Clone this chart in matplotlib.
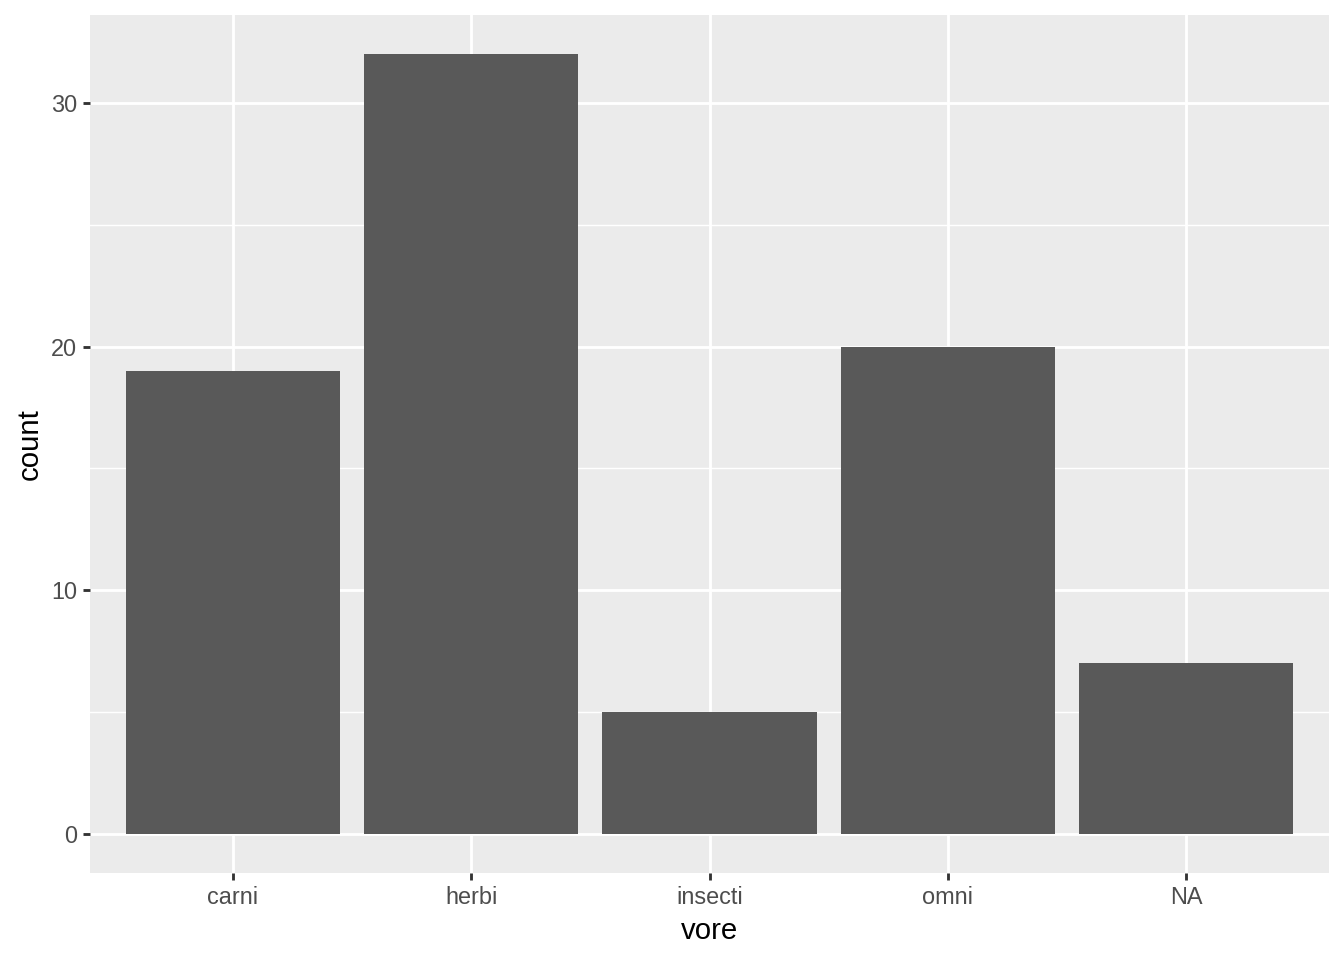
import numpy as np
import matplotlib.pyplot as plt

# counts per vore group (msleep-style data)
vore = ['carni', 'herbi', 'insecti', 'omni', 'NA']
count = [19, 32, 5, 20, 7]

plt.rcParams['font.family'] = ['Liberation Sans', 'DejaVu Sans']

fig = plt.figure(figsize=(7, 5), dpi=192)
ax = fig.add_axes([90/1344, 1 - 873/960, (1329 - 90)/1344, (873 - 15)/960])

x = np.arange(1, len(vore) + 1)
ax.set_facecolor('#EBEBEB')
ax.bar(x, count, width=0.9, color='#595959', zorder=3)

ax.set_xlim(0.4, len(vore) + 0.6)
ymax = max(count)
ax.set_ylim(-0.05 * ymax, ymax * 1.05)

ax.set_xticks(x)
ax.set_xticklabels(vore)
ax.set_yticks([0, 10, 20, 30])
ax.set_yticks([5, 15, 25], minor=True)

ax.grid(which='major', color='white', linewidth=1.07, zorder=1)
ax.grid(which='minor', axis='y', color='white', linewidth=0.53, zorder=1)
ax.set_axisbelow(True)

for s in ax.spines.values():
    s.set_visible(False)

ax.tick_params(which='major', length=2.75, width=1.07, color='#333333',
               labelcolor='#4D4D4D', labelsize=8.8, pad=2.2)
ax.tick_params(which='minor', length=0)

ax.set_xlabel('vore', fontsize=11, color='black', labelpad=2.75)
ax.set_ylabel('count', fontsize=11, color='black', labelpad=2.75)

fig.savefig('out.png', dpi=192)
